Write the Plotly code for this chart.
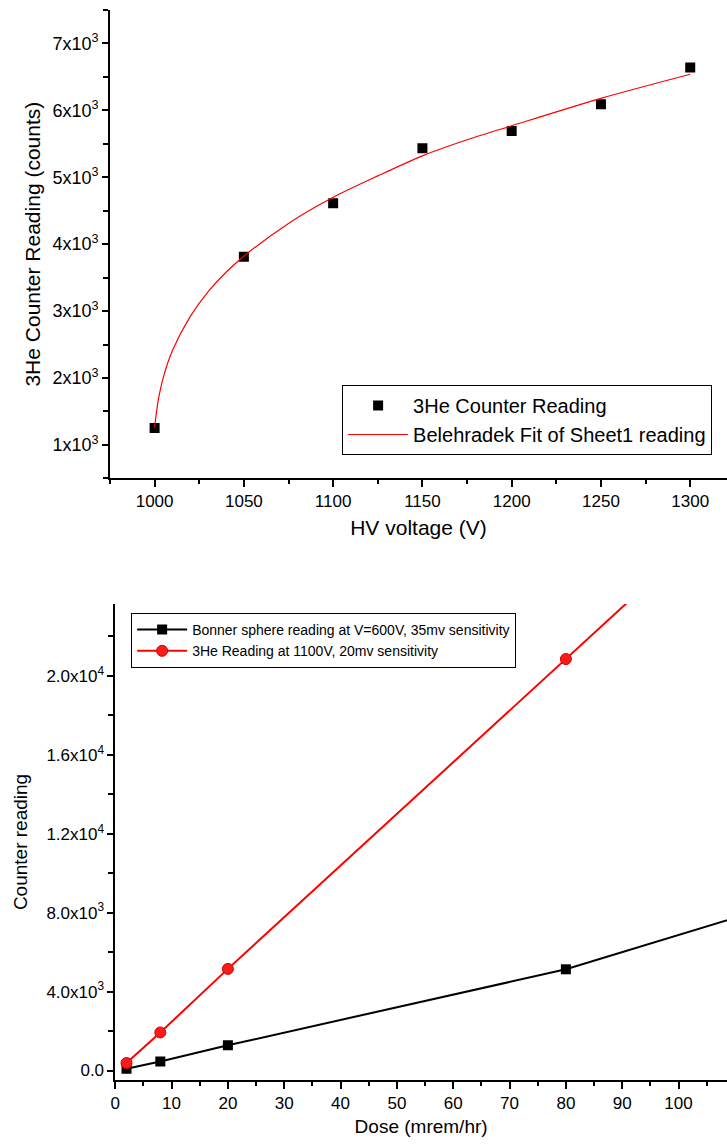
import plotly.graph_objects as go

# ---- upper panel: 3He counter plateau ----
hv_voltage = [1000, 1050, 1100, 1150, 1200, 1250, 1300]
he3_counts = [1250, 3810, 4610, 5435, 5690, 6090, 6640]

fit_voltage = [1000, 1002, 1005, 1010, 1020, 1030, 1040, 1050, 1075,
               1100, 1125, 1150, 1175, 1200, 1250, 1300]
fit_counts = [1260, 1660, 2020, 2410, 2920, 3290, 3580, 3820, 4310,
              4700, 5020, 5320, 5560, 5770, 6180, 6540]

top_ytick_vals = [1000, 2000, 3000, 4000, 5000, 6000, 7000]
top_ytick_text = ["1x10<sup>3</sup>", "2x10<sup>3</sup>", "3x10<sup>3</sup>",
                  "4x10<sup>3</sup>", "5x10<sup>3</sup>", "6x10<sup>3</sup>",
                  "7x10<sup>3</sup>"]

# ---- lower panel: counter reading vs dose ----
dose = [2, 8, 20, 80, 120]
bonner_reading = [90, 460, 1280, 5130, 8610]
he3_reading = [380, 1930, 5150, 20850, 31330]

bot_ytick_vals = [0, 4000, 8000, 12000, 16000, 20000]
bot_ytick_text = ["0.0", "4.0x10<sup>3</sup>", "8.0x10<sup>3</sup>",
                  "1.2x10<sup>4</sup>", "1.6x10<sup>4</sup>", "2.0x10<sup>4</sup>"]

FONT = "Arial, 'Liberation Sans', sans-serif"
W, H = 727, 1144

fig = go.Figure()

fig.add_trace(go.Scatter(
    x=hv_voltage, y=he3_counts, mode="markers", name="3He Counter Reading",
    marker=dict(symbol="square", size=10, color="black"),
    xaxis="x", yaxis="y", legend="legend"))
fig.add_trace(go.Scatter(
    x=fit_voltage, y=fit_counts, mode="lines",
    name="Belehradek Fit of Sheet1 reading",
    line=dict(color="red", width=1.2, shape="spline", smoothing=0.8),
    xaxis="x", yaxis="y", legend="legend"))

fig.add_trace(go.Scatter(
    x=dose, y=bonner_reading, mode="lines+markers",
    name="Bonner sphere reading at V=600V, 35mv sensitivity",
    line=dict(color="black", width=2),
    marker=dict(symbol="square", size=10, color="black"),
    xaxis="x3", yaxis="y3", legend="legend2"))
fig.add_trace(go.Scatter(
    x=dose, y=he3_reading, mode="lines+markers",
    name="3He Reading at 1100V, 20mv sensitivity",
    line=dict(color="red", width=2),
    marker=dict(symbol="circle", size=11, color="#ff1a1a",
                line=dict(color="#d00000", width=1)),
    xaxis="x3", yaxis="y3", legend="legend2"))

top_dom_x = [105.7 / W, 1.0]
top_dom_y = [1 - 478.3 / H, 1 - 10 / H]
bot_dom_x = [111 / W, 1.0]
bot_dom_y = [1 - 1080 / H, 1 - 604 / H]

top_xrange = [975, 1320.6]
top_yrange = [500, 7500]
bot_xrange = [0, 108.6]
bot_yrange = [-480, 23640]

axis_common = dict(showgrid=False, zeroline=False, linecolor="black",
                   tickcolor="black", tickwidth=1.5, linewidth=1.5)

fig.update_layout(
    width=W, height=H, margin=dict(l=0, r=0, t=0, b=0),
    paper_bgcolor="white", plot_bgcolor="white",
    font=dict(family=FONT, color="black"),
    # upper panel axes
    xaxis=dict(domain=top_dom_x, range=top_xrange, anchor="y",
               showline=True, ticks="outside", ticklen=7, dtick=50,
               minor=dict(dtick=25, ticks="outside", ticklen=4,
                          tickcolor="black", tickwidth=1.5),
               tickfont=dict(size=17),
               title=dict(text="HV voltage (V)", font=dict(size=21), standoff=10),
               **axis_common),
    xaxis2=dict(domain=top_dom_x, range=top_xrange, anchor="y", overlaying="x",
                side="top", showline=True, ticks="inside", ticklen=5, dtick=50,
                showticklabels=False,
                minor=dict(dtick=25, ticks="inside", ticklen=3,
                           tickcolor="black", tickwidth=1.5),
                **axis_common),
    yaxis=dict(domain=top_dom_y, range=top_yrange, anchor="x",
               showline=True, ticks="outside", ticklen=6,
               tickmode="array", tickvals=top_ytick_vals, ticktext=top_ytick_text,
               minor=dict(tickmode="linear", tick0=0, dtick=500, ticks="outside",
                          ticklen=5, tickcolor="black", tickwidth=1.5),
               tickfont=dict(size=18),
               title=dict(text="3He Counter Reading (counts)", font=dict(size=21),
                          standoff=6),
               **axis_common),
    yaxis2=dict(domain=top_dom_y, range=top_yrange, anchor="x", overlaying="y",
                side="right", showline=False, ticks="inside", ticklen=2,
                tickmode="array", tickvals=top_ytick_vals, showticklabels=False,
                showgrid=False, zeroline=False, tickcolor="#999999", tickwidth=1.5),
    # lower panel axes
    xaxis3=dict(domain=bot_dom_x, range=bot_xrange, anchor="y3",
                showline=True, ticks="outside", ticklen=7, dtick=10,
                minor=dict(dtick=5, ticks="outside", ticklen=4,
                           tickcolor="black", tickwidth=1.5),
                tickfont=dict(size=17),
                title=dict(text="Dose (mrem/hr)", font=dict(size=19), standoff=8),
                **axis_common),
    xaxis4=dict(domain=bot_dom_x, range=bot_xrange, anchor="y3", overlaying="x3",
                side="top", showline=True, ticks="inside", ticklen=5, dtick=10,
                showticklabels=False,
                minor=dict(dtick=5, ticks="inside", ticklen=3,
                           tickcolor="black", tickwidth=1.5),
                **axis_common),
    yaxis3=dict(domain=bot_dom_y, range=bot_yrange, anchor="x3",
                showline=True, ticks="outside", ticklen=6,
                tickmode="array", tickvals=bot_ytick_vals, ticktext=bot_ytick_text,
                minor=dict(tickmode="linear", tick0=0, dtick=2000, ticks="outside",
                           ticklen=5, tickcolor="black", tickwidth=1.5),
                tickfont=dict(size=17),
                title=dict(text="Counter reading", font=dict(size=19), standoff=14),
                **axis_common),
    yaxis4=dict(domain=bot_dom_y, range=bot_yrange, anchor="x3", overlaying="y3",
                side="right", showline=False, ticks="inside", ticklen=5,
                tickmode="array", tickvals=bot_ytick_vals, showticklabels=False,
                minor=dict(tickmode="linear", tick0=0, dtick=2000, ticks="inside",
                           ticklen=2, tickcolor="black", tickwidth=1.5),
                showgrid=False, zeroline=False, tickcolor="black", tickwidth=1.5),
    legend=dict(x=712 / W, y=1 - 455 / H, xanchor="right", yanchor="bottom",
                bgcolor="white", bordercolor="black", borderwidth=1,
                font=dict(size=20), tracegroupgap=0, itemwidth=60),
    legend2=dict(x=127 / W, y=1 - 613 / H, xanchor="left", yanchor="top",
                 bgcolor="white", bordercolor="black", borderwidth=1,
                 font=dict(size=14), tracegroupgap=0, itemwidth=50),
    showlegend=True,
)

fig.write_html("out.html")
